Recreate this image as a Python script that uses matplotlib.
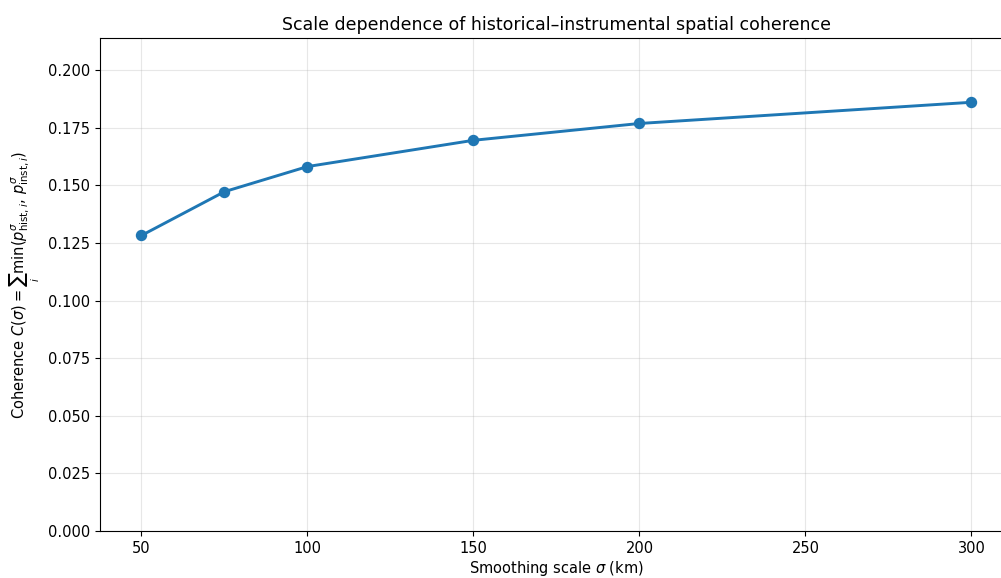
import matplotlib
matplotlib.use('Agg')
import matplotlib.pyplot as plt
import numpy as np

plt.rcParams['font.family'] = ['DejaVu Sans']
plt.rcParams['mathtext.fontset'] = 'dejavusans'

# smoothing scales (km) and coherence values
sigma_km = [50, 75, 100, 150, 200, 300]
coherence = [0.1283, 0.1473, 0.1582, 0.1696, 0.1769, 0.1861]

fig = plt.figure(figsize=(10.01, 5.78), dpi=100)
# axes run past the right edge, as in the cropped reference
ax = fig.add_axes([0.0999, 0.0813, 0.912, 0.853])

ax.plot(sigma_km, coherence, marker='o', color='#1f77b4', linewidth=2.1, markersize=7.2)

ax.set_xlim(37.5, 312.5)
ax.set_ylim(0, max(coherence) * 1.15)
ax.set_xticks([50, 100, 150, 200, 250, 300])
ax.set_yticks(np.arange(0, 0.2001, 0.025))
ax.tick_params(labelsize=10.5)
ax.grid(True, alpha=0.3)
ax.spines['right'].set_visible(False)

ax.set_xlabel(r'Smoothing scale $\sigma$ (km)', fontsize=10.5, labelpad=2)
ax.set_ylabel(r'Coherence $C(\sigma) = \sum_i \min(p^{\sigma}_{\mathrm{hist},i},\, p^{\sigma}_{\mathrm{inst},i})$',
              fontsize=10.5)
ax.set_title('Scale dependence of historical\u2013instrumental spatial coherence', fontsize=12.5)

fig.savefig('out.png', dpi=100)
img = plt.imread('out.png')
print(img.shape, img[300, 995:1001, :3])
